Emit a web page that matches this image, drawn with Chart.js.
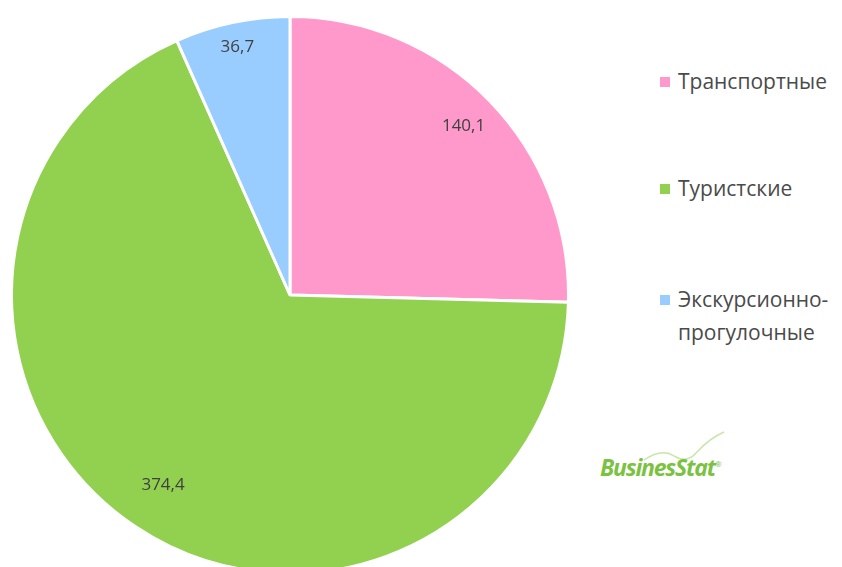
<!DOCTYPE html>
<html>
<head>
<meta charset="utf-8">
<script src="https://cdn.jsdelivr.net/npm/chart.js@4/dist/chart.umd.min.js"></script>
<style>
  html, body { margin: 0; padding: 0; width: 842px; height: 567px; overflow: hidden; background: #fff; }
  #pie-wrap { position: absolute; left: 10px; top: 15px; width: 560px; height: 560px; }
  #legend { position: absolute; left: 660px; top: 0; font-family: "Open Sans", "DejaVu Sans", sans-serif; font-size: 21px; color: #4a4a4a; }
  .item { position: absolute; left: 0; white-space: nowrap; line-height: 33px; }
  .item .box { position: absolute; left: 0; top: 12px; width: 10px; height: 10px; }
  .item .txt { position: absolute; left: 18px; top: 0; }
  #logo { position: absolute; left: 600px; top: 451px; font-family: "Open Sans", sans-serif; font-weight: bold; font-style: italic; font-size: 23px; color: #7cc242; letter-spacing: -1.2px; }
  #logo sup { font-size: 8px; font-style: normal; font-weight: normal; }
</style>
</head>
<body>
<div id="pie-wrap"><canvas id="pie" width="560" height="560"></canvas></div>
<div id="legend"></div>
<svg style="position:absolute;left:642px;top:430px" width="90" height="40">
  <path d="M2 30 Q 20 18 32 26 Q 45 34 55 22 Q 68 8 82 2" stroke="#c8e6a8" stroke-width="1.5" fill="none"/>
</svg>
<div id="logo">BusinesStat<sup>®</sup></div>
<script>
// categories and values
const categories = ['Транспортные', 'Туристские', 'Экскурсионно-\nпрогулочные'];
const values = [140.1, 374.4, 36.7];
const colors = ['#ff99cc', '#92d050', '#99ccff'];
const legendTops = [65, 172, 283];

// legend built from the same arrays
const legend = document.getElementById('legend');
categories.forEach((name, i) => {
    const lines = name.split('\n');
    const div = document.createElement('div');
    div.className = 'item';
    div.style.top = legendTops[i] + 'px';
    div.innerHTML = '<span class="box" style="background:' + colors[i] + '"></span>' +
        '<span class="txt">' + lines.join('<br>') + '</span>';
    legend.appendChild(div);
});

// draw the numbers inside the slices
const sliceLabels = {
    id: 'sliceLabels',
    afterDatasetsDraw(chart) {
        const ctx = chart.ctx;
        const meta = chart.getDatasetMeta(0);
        const factors = [0.87, 0.82, 0.91];
        ctx.save();
        ctx.font = '17px "Open Sans", sans-serif';
        ctx.fillStyle = '#404040';
        ctx.textAlign = 'center';
        ctx.textBaseline = 'middle';
        meta.data.forEach((arc, i) => {
            const mid = (arc.startAngle + arc.endAngle) / 2;
            const r = arc.outerRadius * factors[i];
            const x = arc.x + Math.cos(mid) * r;
            const y = arc.y + Math.sin(mid) * r;
            ctx.fillText(values[i].toFixed(1).replace('.', ','), x, y);
        });
        ctx.restore();
    }
};

new Chart(document.getElementById('pie'), {
    type: 'pie',
    data: {
        labels: categories,
        datasets: [{
            data: values,
            backgroundColor: colors,
            borderColor: '#ffffff',
            borderWidth: 3
        }]
    },
    options: {
        responsive: false,
        animation: false,
        layout: { padding: 0 },
        plugins: {
            legend: { display: false },
            tooltip: { enabled: false }
        }
    },
    plugins: [sliceLabels]
});
</script>
</body>
</html>
